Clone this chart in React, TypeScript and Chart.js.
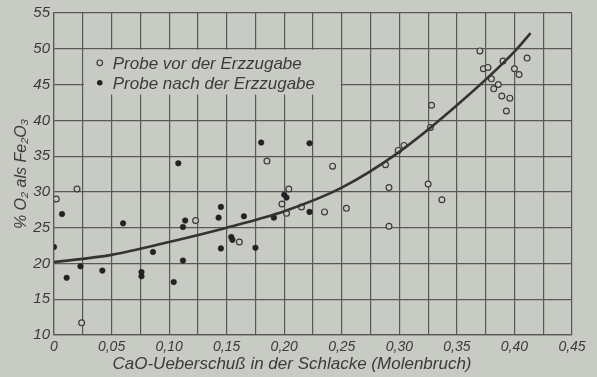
import React, { useEffect, useRef } from "react";
import { Chart, registerables } from "chart.js";

Chart.register(...registerables);

// ---- data ----
const openX = [0.002, 0.020, 0.024, 0.123, 0.161, 0.185, 0.204, 0.198, 0.202, 0.215, 0.235, 0.242, 0.254, 0.288, 0.291, 0.291, 0.299, 0.304, 0.325, 0.327, 0.328, 0.337, 0.370, 0.411, 0.390, 0.373, 0.377, 0.400, 0.404, 0.380, 0.386, 0.382, 0.389, 0.396, 0.393];
const openY = [29.0, 30.4, 11.7, 26.0, 23.0, 34.3, 30.4, 28.3, 27.0, 27.9, 27.2, 33.6, 27.7, 33.8, 30.6, 25.2, 35.8, 36.5, 31.1, 39.0, 42.1, 28.9, 49.7, 48.7, 48.3, 47.2, 47.4, 47.2, 46.4, 45.8, 45.0, 44.4, 43.4, 43.1, 41.3];

const filledX = [0.000, 0.007, 0.011, 0.023, 0.042, 0.060, 0.076, 0.076, 0.086, 0.104, 0.108, 0.112, 0.112, 0.114, 0.143, 0.145, 0.145, 0.154, 0.155, 0.165, 0.175, 0.180, 0.191, 0.200, 0.202, 0.222, 0.222];
const filledY = [22.3, 26.9, 18.0, 19.6, 19.0, 25.6, 18.8, 18.2, 21.6, 17.4, 34.0, 20.4, 25.1, 26.0, 26.4, 27.9, 22.1, 23.7, 23.3, 26.6, 22.2, 36.9, 26.4, 29.6, 29.2, 36.8, 27.2];

const curveX = [0, 0.05, 0.10, 0.15, 0.20, 0.25, 0.30, 0.35, 0.40, 0.414];
const curveY = [20.2, 21.2, 23.0, 25.0, 27.3, 30.6, 35.6, 42.1, 49.6, 52.2];

const xTickLabels = ["0", "0,05", "0,10", "0,15", "0,20", "0,25", "0,30", "0,35", "0,40", "0,45"];
const yTickLabels = ["10", "15", "20", "25", "30", "35", "40", "45", "50", "55"];

const legendLabels = ["Probe vor der Erzzugabe", "Probe nach der Erzzugabe"];
const xTitle = "CaO-Ueberschuß in der Schlacke (Molenbruch)";
const yTitle = "% O₂ als Fe₂O₃";

// ---- styles ----
const BG = "#c8cbc3";
const INK = "#3a3b38";
const GRID = "#575954";
const FONT = "'Liberation Sans', 'DejaVu Sans', sans-serif";

const bgPlugin = {
  id: "bgPlugin",
  beforeDraw(chart: any) {
    const { ctx, width, height } = chart;
    ctx.save();
    ctx.fillStyle = BG;
    ctx.fillRect(0, 0, width, height);
    ctx.restore();
  },
};

const legendPlugin = {
  id: "legendPlugin",
  beforeDatasetsDraw(chart: any) {
    const { ctx } = chart;
    const xs = chart.scales.x;
    const ys = chart.scales.y;
    const left = xs.getPixelForValue(0.025) + 1;
    const right = xs.getPixelForValue(0.25) - 1;
    const top = ys.getPixelForValue(50) + 1;
    const bottom = ys.getPixelForValue(43.6);
    ctx.save();
    ctx.fillStyle = BG;
    ctx.fillRect(left, top, right - left, bottom - top);
    const mx = left + 16;
    const rows = [top + 13, top + 33];
    ctx.font = `italic 17px ${FONT}`;
    ctx.textBaseline = "middle";
    ctx.textAlign = "left";
    rows.forEach((ry, i) => {
      ctx.beginPath();
      ctx.arc(mx, ry, 2.8, 0, Math.PI * 2);
      if (i === 0) {
        ctx.strokeStyle = INK;
        ctx.lineWidth = 1.2;
        ctx.stroke();
      } else {
        ctx.fillStyle = "#222";
        ctx.fill();
      }
      ctx.fillStyle = INK;
      ctx.fillText(legendLabels[i], mx + 13, ry + 1);
    });
    ctx.restore();
  },
  afterDraw(chart: any) {
    const { ctx } = chart;
    ctx.save();
    ctx.font = `italic 17px ${FONT}`;
    ctx.fillStyle = INK;
    ctx.textAlign = "center";
    ctx.textBaseline = "middle";
    ctx.fillText(xTitle, 292, 364);
    ctx.restore();
  },
};

export default function App() {
  const canvasRef = useRef<HTMLCanvasElement | null>(null);

  useEffect(() => {
    document.body.style.margin = "0";
    const canvas = canvasRef.current;
    if (!canvas) return;
    const chart = new Chart(canvas, {
      type: "scatter",
      data: {
        datasets: [
          {
            type: "line",
            label: "Kurve",
            data: curveX.map((x, i) => ({ x, y: curveY[i] })),
            borderColor: "#333431",
            borderWidth: 2.6,
            pointRadius: 0,
            fill: false,
            cubicInterpolationMode: "monotone",
          } as any,
          {
            label: legendLabels[0],
            data: openX.map((x, i) => ({ x, y: openY[i] })),
            pointStyle: "circle",
            pointRadius: 2.9,
            backgroundColor: BG,
            borderColor: "#3a3b38",
            borderWidth: 1.2,
          },
          {
            label: legendLabels[1],
            data: filledX.map((x, i) => ({ x, y: filledY[i] })),
            pointStyle: "circle",
            pointRadius: 2.8,
            backgroundColor: "#222",
            borderColor: "#222",
            borderWidth: 0.5,
          },
        ],
      },
      options: {
        animation: false,
        responsive: false,
        devicePixelRatio: 1,
        layout: { padding: { left: 0, top: 12, right: 25, bottom: 0 } },
        plugins: { legend: { display: false }, tooltip: { enabled: false } },
        scales: {
          x: {
            type: "linear",
            min: 0,
            max: 0.45,
            afterFit: (s: any) => {
              s.height = 42;
            },
            grid: { color: GRID, lineWidth: 1.2, drawTicks: false },
            border: { color: GRID, width: 1.2 },
            ticks: {
              stepSize: 0.025,
              autoSkip: false,
              maxRotation: 0,
              padding: 4,
              color: INK,
              font: { family: FONT, size: 14, style: "italic" },
              callback: (v: any) => {
                const idx = Math.round(Number(v) / 0.025);
                return idx % 2 === 0 ? xTickLabels[idx / 2] ?? "" : "";
              },
            },
          },
          y: {
            type: "linear",
            min: 10,
            max: 55,
            afterFit: (s: any) => {
              s.width = 54;
            },
            grid: { color: GRID, lineWidth: 1.2, drawTicks: false },
            border: { color: GRID, width: 1.2 },
            title: {
              display: true,
              text: yTitle,
              color: INK,
              font: { family: FONT, size: 16, style: "italic" },
              padding: { top: 12, bottom: 0 },
            },
            ticks: {
              stepSize: 5,
              padding: 4,
              color: INK,
              font: { family: FONT, size: 15, style: "italic" },
              callback: (v: any) => {
                const idx = Math.round((Number(v) - 10) / 5);
                return yTickLabels[idx] ?? "";
              },
            },
          },
        },
      },
      plugins: [bgPlugin, legendPlugin],
    });
    return () => chart.destroy();
  }, []);

  return (
    <div style={{ width: 597, height: 377, background: BG }}>
      <canvas ref={canvasRef} width={597} height={377} style={{ display: "block" }} />
    </div>
  );
}
